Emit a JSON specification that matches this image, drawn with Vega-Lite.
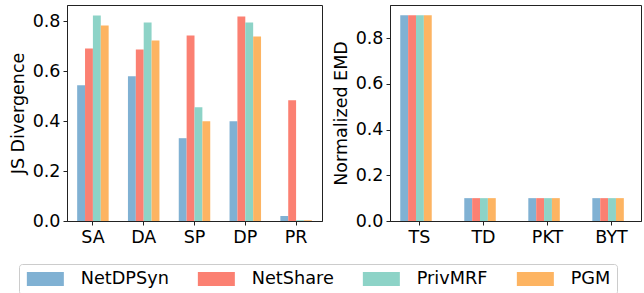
{
  "$schema": "https://vega.github.io/schema/vega-lite/v6.json",
  "padding": {"left": 8, "top": 4, "right": 0, "bottom": 0},
  "datasets": {
    "js": [
      {"metric": "SA", "method": "NetDPSyn", "value": 0.544},
      {"metric": "SA", "method": "NetShare", "value": 0.692},
      {"metric": "SA", "method": "PrivMRF", "value": 0.824},
      {"metric": "SA", "method": "PGM", "value": 0.784},
      {"metric": "DA", "method": "NetDPSyn", "value": 0.58},
      {"metric": "DA", "method": "NetShare", "value": 0.688},
      {"metric": "DA", "method": "PrivMRF", "value": 0.796},
      {"metric": "DA", "method": "PGM", "value": 0.724},
      {"metric": "SP", "method": "NetDPSyn", "value": 0.332},
      {"metric": "SP", "method": "NetShare", "value": 0.744},
      {"metric": "SP", "method": "PrivMRF", "value": 0.456},
      {"metric": "SP", "method": "PGM", "value": 0.4},
      {"metric": "DP", "method": "NetDPSyn", "value": 0.4},
      {"metric": "DP", "method": "NetShare", "value": 0.82},
      {"metric": "DP", "method": "PrivMRF", "value": 0.796},
      {"metric": "DP", "method": "PGM", "value": 0.74},
      {"metric": "PR", "method": "NetDPSyn", "value": 0.02},
      {"metric": "PR", "method": "NetShare", "value": 0.484},
      {"metric": "PR", "method": "PrivMRF", "value": 0.003},
      {"metric": "PR", "method": "PGM", "value": 0.003}
    ],
    "emd": [
      {"metric": "TS", "method": "NetDPSyn", "value": 0.9},
      {"metric": "TS", "method": "NetShare", "value": 0.9},
      {"metric": "TS", "method": "PrivMRF", "value": 0.9},
      {"metric": "TS", "method": "PGM", "value": 0.9},
      {"metric": "TD", "method": "NetDPSyn", "value": 0.1},
      {"metric": "TD", "method": "NetShare", "value": 0.1},
      {"metric": "TD", "method": "PrivMRF", "value": 0.1},
      {"metric": "TD", "method": "PGM", "value": 0.1},
      {"metric": "PKT", "method": "NetDPSyn", "value": 0.1},
      {"metric": "PKT", "method": "NetShare", "value": 0.1},
      {"metric": "PKT", "method": "PrivMRF", "value": 0.1},
      {"metric": "PKT", "method": "PGM", "value": 0.1},
      {"metric": "BYT", "method": "NetDPSyn", "value": 0.1},
      {"metric": "BYT", "method": "NetShare", "value": 0.1},
      {"metric": "BYT", "method": "PrivMRF", "value": 0.1},
      {"metric": "BYT", "method": "PGM", "value": 0.1}
    ]
  },
  "spacing": 8,
  "hconcat": [
    {
      "width": 255,
      "height": 216,
      "data": {"name": "js"},
      "mark": {"type": "bar"},
      "encoding": {
        "x": {"field": "metric", "type": "nominal", "sort": null, "title": null,
              "scale": {"paddingInner": 0.38, "paddingOuter": 0.2}},
        "xOffset": {"field": "method", "type": "nominal", "sort": ["NetDPSyn", "NetShare", "PrivMRF", "PGM"], "scale": {"padding": 0}},
        "y": {"field": "value", "type": "quantitative", "title": "JS Divergence",
              "scale": {"domain": [0, 0.866], "nice": false},
              "axis": {"values": [0, 0.2, 0.4, 0.6, 0.8], "format": ".1f"}},
        "color": {"field": "method", "type": "nominal", "title": null,
                  "scale": {"domain": ["NetDPSyn", "NetShare", "PrivMRF", "PGM"], "range": ["#80b1d3", "#fb8072", "#8dd3c7", "#fdb462"]},
                  "legend": {"orient": "none", "legendX": -48, "legendY": 259, "direction": "horizontal", "columns": 4}}
      }
    },
    {
      "width": 251,
      "height": 216,
      "data": {"name": "emd"},
      "mark": {"type": "bar"},
      "encoding": {
        "x": {"field": "metric", "type": "nominal", "sort": null, "title": null,
              "scale": {"paddingInner": 0.4, "paddingOuter": 0.16}},
        "xOffset": {"field": "method", "type": "nominal", "sort": ["NetDPSyn", "NetShare", "PrivMRF", "PGM"], "scale": {"padding": 0}},
        "y": {"field": "value", "type": "quantitative", "title": "Normalized EMD",
              "scale": {"domain": [0, 0.945], "nice": false},
              "axis": {"values": [0, 0.2, 0.4, 0.6, 0.8], "format": ".1f"}},
        "color": {"field": "method", "type": "nominal", "title": null,
                  "scale": {"domain": ["NetDPSyn", "NetShare", "PrivMRF", "PGM"], "range": ["#80b1d3", "#fb8072", "#8dd3c7", "#fdb462"]}}
      }
    }
  ],
  "config": {
    "font": "DejaVu Sans",
    "view": {"stroke": "#222", "strokeWidth": 1},
    "axis": {
      "grid": false,
      "domainColor": "#222",
      "tickColor": "#222",
      "tickSize": 4,
      "labelFont": "DejaVu Sans",
      "labelFontSize": 17.5,
      "labelColor": "#000",
      "labelPadding": 3,
      "titleFont": "DejaVu Sans",
      "titleFontSize": 17.5,
      "titleFontWeight": "normal",
      "titleColor": "#000",
      "titlePadding": 5
    },
    "axisX": {"labelAngle": 0},
    "legend": {
      "labelFont": "DejaVu Sans",
      "labelFontSize": 17.7,
      "labelColor": "#000",
      "symbolType": "M-1,-1H4.286V1H-1Z",
      "symbolSize": 196,
      "symbolStrokeWidth": 0,
      "symbolOpacity": 1,
      "labelOffset": 38,
      "columnPadding": 27,
      "padding": 6,
      "strokeColor": "#cccccc",
      "fillColor": "#ffffff",
      "cornerRadius": 3
    }
  }
}
